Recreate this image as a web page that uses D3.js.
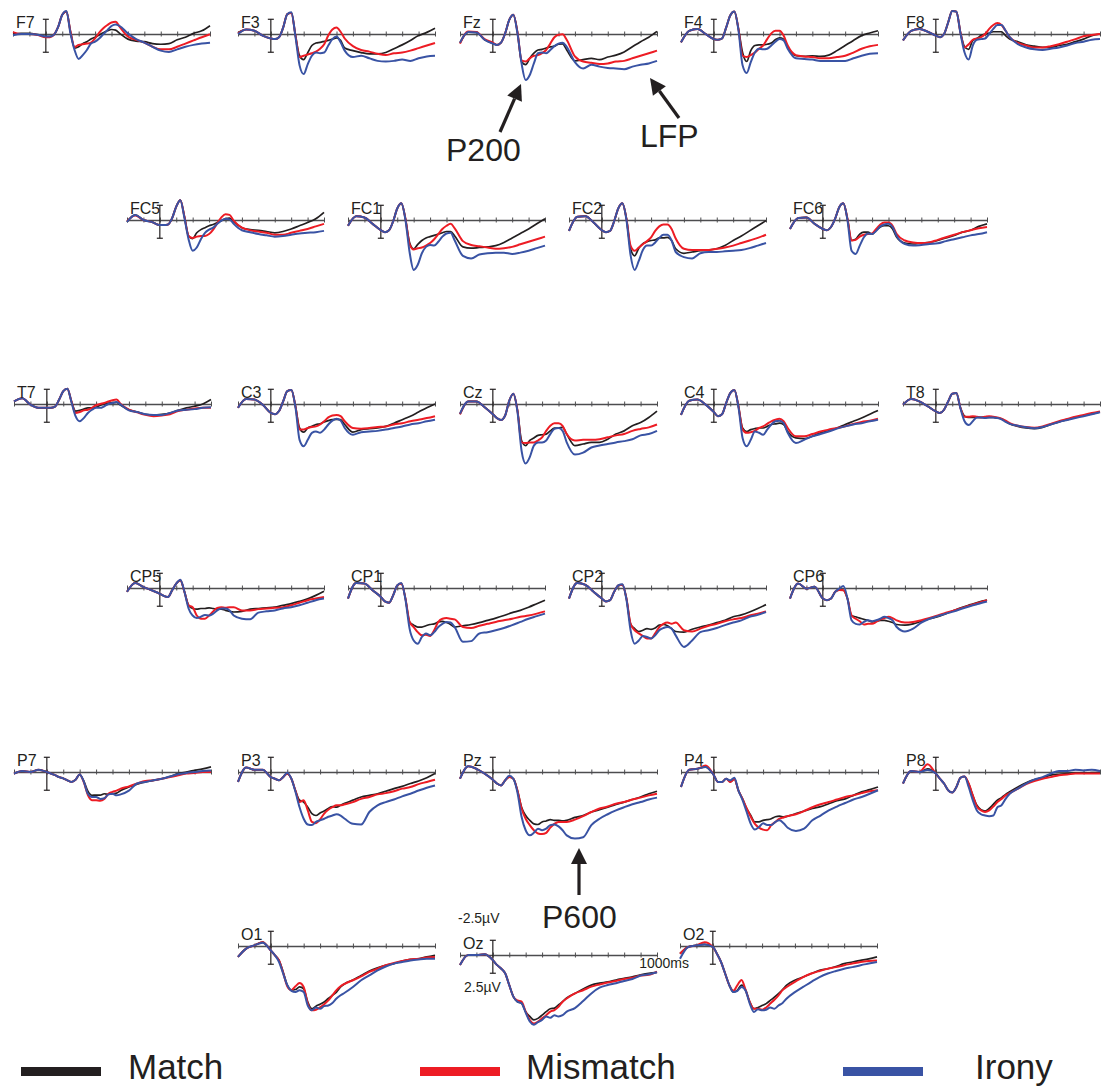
<!DOCTYPE html>
<html>
<head>
<meta charset="utf-8">
<script src="https://cdn.jsdelivr.net/npm/d3@7"></script>
<style>
  body { margin: 0; background: #fff; }
  text { font-family: "Liberation Sans", Arial, Helvetica, sans-serif; fill: #231f20; }
</style>
</head>
<body>
<script>
// sample times (ms)
var times = [-200,-150,-100,-50,0,25,50,75,100,125,150,175,200,225,250,275,300,325,350,375,400,425,450,500,550,600,650,700,750,800,850,900,950,1000]

var electrodes = ['F7','F3','Fz','F4','F8','FC5','FC1','FC2','FC6','T7','C3','Cz','C4','T8',
                  'CP5','CP1','CP2','CP6','P7','P3','Pz','P4','P8','O1','Oz','O2']

// amplitudes in microvolts, one row per electrode (same order as above)
var match = [
  [0,-0.1,-0.1,0.1,0.4,0.4,0.1,-1.1,-3.0,-3.5,-0.4,2.2,2.0,1.5,1.2,0.8,0.5,0.15,-0.2,-0.5,-0.7,-0.6,-0.1,0.8,1.1,1.2,1.5,1.6,1.5,0.9,0.5,-0.1,-0.5,-1.3], // F7
  [-0.2,-0.7,-0.5,0.25,0.7,0.8,0.5,-1.0,-3.1,-3.3,0.2,3.4,4.0,2.9,1.8,1.4,1.3,1.15,1.0,0.8,0.6,1.0,2.2,2.6,2.9,3.1,3.1,2.9,2.3,1.7,1.0,0.25,-0.25,-0.9], // F3
  [1.4,-0.3,-0.25,0.9,1.45,1.7,1.35,-0.1,-2.2,-3.0,-0.3,4.3,4.8,3.8,3.0,2.5,2.4,2.2,2.0,1.9,1.6,1.55,2.5,4.2,4.0,3.8,4.0,3.6,3.3,2.8,2.0,1.2,0.5,-0.4], // Fz
  [1.3,-0.5,-0.8,0,0.8,0.9,0.7,-1.0,-2.9,-3.5,-0.8,2.9,4.3,2.6,1.8,1.7,1.7,1.6,1.4,0.9,0.6,0.8,2.1,3.4,3.5,3.4,3.5,3.3,2.6,1.8,1.0,0.25,-0.15,-0.5], // F4
  [1.0,-0.5,-0.8,-0.35,0.25,0.5,0,-1.8,-3.6,-3.5,-0.25,2.0,2.4,1.0,0.7,0.25,0,-0.15,-0.35,-0.35,-0.35,0.25,0.8,1.2,1.7,1.9,2.1,2.1,1.8,1.6,1.2,0.8,0.25,0], // F8
  [0.3,-0.8,0,0.3,0.8,0.8,0.7,-0.3,-2.1,-3.1,-0.5,2.5,2.9,2.0,1.5,1.2,0.9,0.7,0.4,0.1,-0.2,-0.3,0.3,1.2,1.5,1.6,1.8,2.0,1.8,1.4,0.9,0.4,-0.2,-1.2], // FC5
  [0.9,-0.6,-0.4,0.6,1.6,1.9,1.6,0.2,-1.8,-2.6,-0.2,3.5,4.5,3.8,3.2,2.8,2.6,2.4,2.2,2.0,1.8,1.8,2.5,4.2,4.4,4.3,4.2,4.0,3.5,2.8,2.1,1.4,0.6,-0.2], // FC1
  [1.7,-0.5,-0.6,0.4,1.6,1.9,1.7,0.2,-1.8,-2.6,-0.2,4.5,5.6,4.4,3.7,3.4,3.2,3.1,2.8,2.8,2.7,3.2,4.5,5.2,5.0,4.8,4.7,4.5,4.0,3.2,2.5,1.7,0.9,0.1], // FC2
  [1.4,-0.3,-0.4,0.6,1.4,1.6,1.1,-0.2,-2.0,-2.6,-0.2,3.2,3.0,2.2,1.9,1.9,2.2,1.6,1.1,0.9,0.9,1.4,2.7,3.6,3.75,3.6,3.5,3.2,2.8,2.4,1.9,1.6,1.0,0.6], // FC6
  [-0.4,-0.9,0.1,0.6,0.6,0.6,0.4,-0.7,-2.0,-2.4,-0.4,1.1,1.0,0.8,0.6,0.6,0.5,0.2,0,-0.15,-0.2,-0.25,0.2,0.9,1.25,1.6,1.7,1.6,1.4,1.0,0.6,0.35,0,-0.7], // T7
  [0.6,-0.8,-0.7,0.1,1.4,1.6,1.1,-0.4,-2.0,-2.2,0.35,3.75,4.4,3.75,3.5,3.2,3.1,2.8,2.6,2.45,2.4,2.45,3.2,4.4,4.0,3.85,3.75,3.5,3.0,2.45,1.9,1.25,0.6,0], // C3
  [1.6,-0.4,-0.4,0.5,1.6,2.2,2.5,1.8,-0.5,-1.6,1.0,5.7,6.5,5.7,5.3,4.9,4.8,4.7,4.2,3.75,3.75,3.65,4.7,6.5,6.25,6.0,6.0,5.5,4.7,4.2,3.4,2.9,2.1,1.1], // Cz
  [1.7,-0.5,-0.7,0.1,1.25,1.9,1.6,-0.15,-1.7,-2.2,0.35,3.75,4.3,4.0,3.85,3.75,3.75,3.5,3.2,3.1,3.0,3.2,4.3,5.3,5.4,5.05,4.5,4.2,3.75,3.2,2.7,2.2,1.6,1.0], // C4
  [0.1,-0.8,-0.4,0.35,1.15,1.4,0.9,-0.4,-1.6,-1.7,0.6,1.9,2.1,2.1,2.1,2.1,2.1,2.1,2.1,2.2,2.3,2.7,3.1,3.5,3.75,3.85,3.65,3.2,2.8,2.45,2.1,1.8,1.55,1.25], // T8
  [0.6,-0.8,-0.15,0.35,0.9,1.25,1.4,0.35,-0.7,-1.2,0.6,2.7,3.2,3.3,3.2,3.2,3.1,3.2,3.3,3.3,3.5,3.65,3.75,3.65,3.3,3.2,3.1,3.0,2.7,2.45,2.1,1.7,1.15,0.5], // CP5
  [1.65,-0.8,-0.7,0.35,1.4,2.1,2.3,1.15,-0.4,-0.7,1.65,5.3,5.8,6.1,6.1,5.9,5.7,5.6,5.3,5.2,5.4,5.7,6.1,5.9,5.7,5.4,5.05,4.7,4.3,3.85,3.5,3.0,2.45,1.9], // CP1
  [1.65,-0.8,-0.5,0.6,1.65,2.1,1.9,0.6,-0.4,-0.5,1.65,5.6,6.35,6.8,6.6,6.35,6.45,6.25,5.8,5.7,5.9,6.35,6.8,6.9,6.45,6.1,5.8,5.4,5.05,4.5,4.2,3.75,3.2,2.6], // CP2
  [1.65,-0.7,0.1,-0.2,1.65,1.9,1.65,0.6,0.3,0.35,1.65,4.3,4.5,4.7,4.9,5.05,5.3,5.2,5.05,5.05,5.2,5.4,5.7,5.8,5.6,5.2,4.8,4.5,4.0,3.5,3.0,2.6,2.2,1.9], // CP6
  [0.25,-0.15,0,-0.35,0,0.25,0.5,0.8,1.0,1.3,1.55,1.2,0.4,1.4,3.0,3.65,3.6,3.6,3.4,3.5,3.4,3.3,2.9,2.35,1.9,1.55,1.3,1.05,0.7,0.25,0,-0.25,-0.5,-0.8], // P7
  [1.55,-0.7,-0.35,-0.35,0.8,1.05,1.3,0.8,0.25,1.05,2.9,4.4,4.7,5.5,6.5,6.8,6.4,6.1,5.7,5.4,5.5,5.2,4.9,4.4,3.9,3.65,3.4,3.0,2.6,2.25,1.8,1.4,0.9,0.25], // P3
  [1.05,-0.9,-0.5,0.25,1.2,1.8,2.1,1.3,0.8,1.05,2.9,5.5,6.8,7.55,8.1,8.2,7.8,7.65,7.45,7.55,7.55,7.65,7.55,7.1,6.8,6.25,5.9,5.5,5.05,4.7,4.3,3.9,3.4,3.0], // Pz
  [2.35,-0.35,-0.5,-0.8,0.5,1.55,1.55,1.05,1.55,1.1,2.9,4.2,5.7,6.8,7.8,7.8,7.55,7.45,7.3,7.0,6.9,7.0,6.9,6.5,6.1,5.7,5.4,4.95,4.5,4.2,3.65,3.1,2.75,2.35], // P4
  [1.8,-0.15,0,-0.5,0.25,1.05,1.8,2.85,3.2,2.35,0.9,0.7,1.8,3.65,5.2,5.9,6.1,5.7,5.05,4.4,4.0,3.5,3.1,2.35,1.7,1.2,0.9,0.5,0.35,0.25,0.15,0.15,0.1,0.05], // P8
  [1.7,0.4,-0.1,-0.6,0.7,1.45,2.25,4.05,6.1,6.9,6.8,6.4,6.7,8.75,9.8,9.4,9.1,8.75,8.2,7.7,7.2,6.4,5.9,5.3,4.6,3.9,3.4,3.0,2.75,2.35,2.1,2.0,1.7,1.45], // O1
  [1.55,0,0,-0.1,0.8,1.55,2.1,2.85,4.7,6.5,7.3,7.55,8.85,9.6,10.15,9.9,9.4,8.85,8.4,8.3,7.8,7.3,6.7,6.0,5.3,4.7,4.4,4.2,3.9,3.65,3.4,3.1,2.85,2.7], // Oz
  [1.2,0.15,-0.1,-0.25,0.15,1.2,2.5,4.3,6.1,7.2,6.9,6.1,6.9,8.75,9.8,9.6,9.3,9.0,8.5,8.0,7.45,6.8,6.1,5.35,4.85,4.3,3.8,3.55,3.2,2.75,2.5,2.25,2.0,1.7]  // O2
]

var mismatch = [
  [-0.3,0,0,0.15,0.5,0.5,0.1,-1.1,-3.0,-3.5,-0.4,2.0,1.7,1.6,1.5,1.35,0.7,-0.2,-0.9,-1.4,-1.8,-1.9,-1.1,0.4,0.9,1.35,2.0,2.4,2.4,2.0,1.5,1.0,0.5,0.05], // F7
  [-0.1,-0.7,-0.5,0.25,0.7,0.8,0.5,-1.0,-3.1,-3.3,0.2,3.6,3.4,3.2,3.0,2.75,2.3,1.6,0.25,-0.7,-1.0,-0.35,0.7,1.9,2.5,2.75,3.1,3.3,3.0,2.9,2.6,2.2,1.8,1.4], // F3
  [1.5,-0.4,-0.3,0.8,1.35,1.7,1.35,-0.1,-2.2,-3.0,-0.3,4.1,4.3,3.8,3.4,3.3,3.0,2.5,1.5,0.5,0.1,0.05,0.9,3.5,4.3,4.5,4.7,4.6,4.3,4.2,3.8,3.4,3.0,2.6], // Fz
  [1.3,-0.5,-0.8,0,0.8,0.9,0.7,-1.0,-2.9,-3.5,-0.8,3.4,3.6,3.3,2.9,2.3,1.8,0.8,-0.1,-0.5,-0.5,0.25,1.8,3.3,3.5,3.6,3.8,3.8,3.6,3.4,2.9,2.3,1.9,1.7], // F4
  [1.0,-0.5,-0.8,-0.35,0.25,0.5,0,-1.8,-3.6,-3.5,-0.25,2.1,1.6,0.9,0.7,0.5,0,-0.8,-1.4,-1.7,-1.4,-0.5,0.5,1.4,1.8,2.1,2.1,1.9,1.6,1.2,0.8,0.35,0.15,0], // F8
  [0.2,-0.7,0,0.3,0.8,0.8,0.7,-0.3,-2.1,-3.1,-0.5,2.5,2.8,2.6,2.5,2.5,2.2,1.5,0.5,-0.4,-0.9,-0.8,0.1,1.2,1.6,1.8,2.0,2.3,2.3,2.0,1.7,1.4,1.0,0.6], // FC5
  [0.9,-0.6,-0.4,0.6,1.6,1.9,1.6,0.2,-1.8,-2.6,-0.2,3.8,4.6,4.4,4.3,4.0,3.6,3.0,2.2,1.4,0.9,0.6,1.3,3.3,3.9,4.1,4.3,4.5,4.4,4.2,3.8,3.4,3.0,2.6], // FC1
  [1.7,-0.5,-0.6,0.4,1.6,1.9,1.7,0.2,-1.8,-2.6,-0.2,4.0,4.8,4.3,3.8,3.3,2.7,1.7,1.0,0.7,0.7,1.4,2.9,4.5,4.7,4.7,4.7,4.5,4.3,4.0,3.6,3.2,2.8,2.3], // FC2
  [1.4,-0.3,-0.4,0.6,1.4,1.6,1.1,-0.2,-2.0,-2.6,-0.2,3.2,3.1,2.6,2.3,2.2,2.1,1.4,0.7,0.4,0.4,0.9,2.2,3.2,3.5,3.6,3.5,3.1,2.7,2.3,1.9,1.6,1.3,1.1], // FC6
  [-0.4,-0.9,0.1,0.6,0.6,0.6,0.4,-0.7,-2.0,-2.4,-0.4,1.4,1.25,1.0,0.9,0.6,0.2,0,-0.15,-0.4,-0.6,-0.7,0,0.9,1.3,1.7,1.9,1.8,1.6,1.1,0.9,0.7,0.6,0.6], // T7
  [0.6,-0.8,-0.7,0.1,1.4,1.6,1.1,-0.4,-2.0,-2.2,0.35,4.0,4.0,3.75,3.6,3.5,3.2,2.7,2.1,1.8,1.7,1.9,2.7,3.75,3.85,3.75,3.6,3.5,3.2,3.0,2.7,2.45,2.2,1.9], // C3
  [1.6,-0.4,-0.4,0.5,1.6,2.2,2.5,1.8,-0.5,-1.6,1.0,6.0,6.1,6.0,6.0,5.7,5.2,4.2,3.4,3.0,3.0,3.4,4.7,5.7,5.6,5.6,5.5,5.2,4.9,4.7,4.2,3.9,3.65,3.2], // Cz
  [1.7,-0.5,-0.7,0.1,1.25,1.9,1.6,-0.15,-1.7,-2.2,0.35,4.0,4.5,4.4,4.2,3.75,3.5,3.1,2.7,2.45,2.3,2.7,3.75,5.05,5.05,4.7,4.3,4.0,3.75,3.5,3.1,2.8,2.6,2.3], // C4
  [0.1,-0.8,-0.4,0.35,1.15,1.4,0.9,-0.4,-1.6,-1.7,0.6,2.0,2.0,1.9,2.0,2.1,2.0,1.9,2.0,2.1,2.3,2.6,3.0,3.4,3.6,3.7,3.5,3.1,2.7,2.35,2.0,1.7,1.4,1.15], // T8
  [0.6,-0.8,-0.15,0.35,0.9,1.25,1.4,0.35,-0.7,-1.2,0.6,2.7,3.0,4.3,4.8,4.8,4.3,3.65,3.1,3.0,3.1,3.0,3.0,3.5,3.5,3.3,3.2,3.1,3.0,2.7,2.3,1.9,1.65,1.4], // CP5
  [1.65,-0.8,-0.7,0.35,1.4,2.1,2.3,1.15,-0.4,-0.7,1.65,5.3,6.1,6.9,7.4,7.3,7.5,6.6,5.3,4.8,4.7,4.8,4.9,6.1,6.25,5.9,5.6,5.3,5.05,4.8,4.5,4.3,4.0,3.65], // CP1
  [1.65,-0.8,-0.5,0.6,1.65,2.1,1.9,0.6,-0.4,-0.5,1.65,5.6,6.6,7.1,7.5,7.9,7.9,7.1,6.1,5.6,5.4,5.6,5.4,6.6,6.8,6.35,5.9,5.6,5.2,4.9,4.7,4.3,4.0,3.65], // CP2
  [1.65,-0.7,0.1,-0.2,1.65,1.9,1.65,0.6,0.3,0.35,1.65,4.3,4.8,5.2,5.7,5.6,5.6,5.3,4.9,4.7,4.5,4.7,5.05,5.4,5.3,5.05,4.7,4.3,3.85,3.5,3.1,2.7,2.3,1.9], // CP6
  [0.25,-0.15,0,-0.35,0,0.25,0.5,0.8,1.0,1.3,1.55,1.2,0.4,1.6,3.6,4.4,4.4,4.5,4.2,3.4,3.1,2.9,2.6,2.25,1.8,1.4,1.3,1.05,0.8,0.5,0.25,0.15,0,0], // P7
  [1.55,-0.7,-0.35,-0.35,0.8,1.05,1.3,0.8,0.25,1.05,2.9,4.7,4.4,6.0,7.8,8.0,7.4,6.5,5.9,5.5,5.2,5.2,5.05,4.7,4.2,3.9,3.5,3.3,3.0,2.6,2.35,1.9,1.55,1.2], // P3
  [1.05,-0.9,-0.5,0.25,1.2,1.8,2.1,1.3,0.8,1.05,2.9,5.7,7.3,8.3,9.1,9.6,9.7,9.5,8.7,8.1,7.8,7.8,7.8,7.45,6.9,6.25,5.7,5.4,4.95,4.7,4.3,4.0,3.65,3.4], // Pz
  [2.35,-0.35,-0.5,-1.0,0.5,1.55,1.55,1.05,1.55,1.1,2.9,4.2,5.7,7.0,8.1,8.7,9.0,9.1,8.3,7.8,7.3,7.1,6.9,6.6,6.1,5.5,5.05,4.7,4.3,3.9,3.65,3.3,3.0,2.85], // P4
  [1.8,-0.15,0,-1.2,0.25,1.05,1.8,2.85,3.2,2.35,0.9,0.7,1.8,3.65,5.4,6.0,6.25,6.0,5.4,4.7,4.2,3.65,3.3,2.6,1.9,1.4,1.05,0.8,0.5,0.4,0.25,0.25,0.25,0.25], // P8
  [1.7,0.4,-0.1,-0.6,0.7,1.45,2.25,4.2,6.3,6.9,6.3,5.8,6.4,9.0,10.05,9.95,9.6,9.1,8.5,7.7,6.9,6.3,5.9,5.35,4.75,4.05,3.55,3.0,2.65,2.35,2.1,2.0,1.8,1.7], // O1
  [1.55,0,0,-0.1,0.8,1.55,2.1,2.85,4.7,6.5,7.1,7.3,8.85,10.15,10.7,10.4,9.9,9.4,8.85,8.6,8.1,7.3,6.8,6.0,5.5,4.95,4.6,4.3,4.05,3.75,3.55,3.2,3.1,2.6], // Oz
  [1.2,0.15,-0.1,-0.6,0.15,1.2,2.5,4.3,6.1,7.0,6.1,5.3,6.9,8.75,9.8,9.8,9.95,9.6,9.0,8.4,7.7,6.9,6.4,5.6,4.85,4.3,3.9,3.55,3.3,3.0,2.75,2.5,2.35,2.25]  // O2
]

var irony = [
  [0.2,0,0,0.1,0.4,0.4,0.1,-1.1,-3.0,-3.6,-0.1,2.5,3.9,3.3,2.5,1.5,1.2,0.7,0.05,-0.6,-1.25,-1.5,-1.25,-0.1,0.8,1.35,2.0,2.6,2.8,2.4,2.0,1.7,1.5,1.35], // F7
  [0,-0.7,-0.5,0.25,0.7,0.8,0.5,-1.0,-3.1,-3.4,0.4,4.9,6.25,4.7,3.4,2.9,3.0,2.9,1.8,0.8,0.4,1.3,2.6,3.6,3.4,3.8,4.2,4.3,4.2,4.0,4.2,3.8,3.5,3.4], // F3
  [1.35,-0.3,-0.25,0.9,1.5,1.7,1.35,-0.1,-2.2,-3.0,-0.1,4.6,7.2,6.4,4.6,3.0,2.9,3.0,2.5,1.9,1.5,1.35,2.0,4.4,5.4,4.8,5.1,5.3,5.4,5.5,5.1,4.8,4.6,4.2], // Fz
  [1.3,-0.5,-0.8,0,0.8,0.9,0.7,-1.0,-2.9,-3.5,-0.6,4.9,6.1,4.4,2.9,2.3,2.4,2.3,1.8,1.2,0.8,1.0,2.3,3.8,3.9,4.0,4.2,4.2,4.2,4.2,3.8,3.4,3.1,3.0], // F4
  [1.0,-0.5,-0.8,-0.35,0.25,0.5,0,-1.8,-3.6,-3.5,-0.1,2.9,4.0,1.8,0.9,0.8,0.7,0,-0.8,-1.4,-1.4,-0.5,0.5,1.6,2.1,2.4,2.5,2.3,2.1,1.8,1.4,1.2,0.9,0.8], // F8
  [0.3,-0.8,0,0.3,0.8,0.8,0.7,-0.3,-2.1,-3.1,-0.3,3.0,4.8,4.3,3.0,2.0,1.5,1.2,0.6,0.1,-0.2,-0.1,0.6,1.6,1.9,2.2,2.4,2.6,2.5,2.3,2.1,2.0,1.9,1.7], // FC5
  [0.9,-0.6,-0.4,0.6,1.6,1.9,1.6,0.2,-1.8,-2.6,0,5.0,7.8,7.0,5.2,4.2,3.9,4.0,3.4,2.6,2.1,2.0,3.2,5.6,6.0,5.4,5.2,5.1,5.1,5.3,5.1,4.8,4.4,4.0], // FC1
  [1.7,-0.5,-0.6,0.4,1.6,1.9,1.7,0.2,-1.8,-2.6,0,5.5,7.8,6.4,4.7,4.0,4.0,3.5,2.8,2.3,2.3,3.2,5.0,5.8,6.0,5.2,5.0,5.0,4.9,4.8,4.7,4.4,4.0,3.6], // FC2
  [1.4,-0.3,-0.4,0.6,1.4,1.6,1.1,-0.2,-2.0,-2.6,0,4.8,5.3,4.0,2.7,2.1,2.2,1.7,1.0,0.7,0.6,1.1,2.5,3.75,4.0,3.9,3.75,3.65,3.3,3.0,2.7,2.4,2.2,1.9], // FC6
  [-0.4,-0.9,0.1,0.6,0.6,0.6,0.4,-0.7,-2.0,-2.4,-0.3,1.9,2.7,2.2,1.4,0.9,0.6,0.6,0.35,0,-0.15,-0.3,0.1,1.0,1.25,1.6,1.7,1.7,1.4,1.0,0.9,0.8,0.6,0.5], // T7
  [0.6,-0.8,-0.7,0.1,1.4,1.6,1.1,-0.4,-2.0,-2.2,0.5,5.6,6.6,5.6,4.5,4.3,4.5,4.0,3.2,2.6,2.3,2.6,3.75,4.8,4.4,4.3,4.2,4.0,3.75,3.5,3.2,3.0,2.7,2.45], // C3
  [1.5,-0.4,-0.4,0.5,1.6,2.2,2.5,1.8,-0.5,-1.6,1.2,7.3,9.3,8.3,6.5,6.0,6.0,5.7,4.7,3.9,3.75,4.2,6.0,7.9,7.6,6.8,6.5,6.25,6.0,5.8,5.5,4.9,4.7,4.2], // Cz
  [1.7,-0.5,-0.7,0.1,1.25,1.9,1.6,-0.15,-1.7,-2.2,0.5,5.3,6.6,5.6,4.3,4.5,4.8,4.0,3.2,2.7,2.6,3.0,4.5,6.1,5.6,5.05,4.7,4.3,3.85,3.5,3.2,3.0,2.7,2.45], // C4
  [0.1,-0.8,-0.4,0.35,1.15,1.4,0.9,-0.4,-1.6,-1.7,0.7,2.7,3.3,2.7,2.1,2.1,2.2,2.1,2.1,2.2,2.4,2.8,3.1,3.4,3.65,3.8,3.6,3.2,2.8,2.5,2.2,1.9,1.6,1.3], // T8
  [0.6,-0.8,-0.15,0.35,0.9,1.25,1.4,0.35,-0.7,-1.3,0.6,3.2,4.3,4.7,4.5,4.2,4.3,4.0,3.5,3.2,3.2,3.5,4.3,4.8,4.9,3.85,3.65,3.5,3.2,3.0,2.7,2.3,1.9,1.65], // CP5
  [1.65,-0.8,-0.7,0.35,1.4,2.1,2.3,1.15,-0.4,-0.8,1.8,6.35,8.2,8.7,7.65,7.1,7.4,6.9,6.1,5.6,5.3,5.4,6.1,8.4,8.3,7.1,6.9,6.6,6.25,5.8,5.3,4.8,4.4,4.0], // CP1
  [1.65,-0.8,-0.5,0.6,1.65,2.1,1.9,0.6,-0.4,-0.6,1.8,6.6,8.7,8.2,7.5,7.65,7.9,7.4,6.6,6.25,6.1,6.35,7.4,9.2,8.2,6.9,6.6,6.25,5.8,5.4,5.05,4.5,4.2,3.75], // CP2
  [1.65,-0.7,0.1,-0.2,1.65,1.9,1.65,0.6,0.1,-0.3,1.65,5.05,5.6,5.7,5.3,5.05,5.2,5.05,4.8,4.5,4.7,5.05,6.1,6.8,6.35,5.4,4.8,4.4,4.0,3.65,3.2,2.8,2.45,2.1], // CP6
  [0.25,-0.15,0,-0.35,0,0.25,0.5,0.8,1.0,1.3,1.55,1.2,0.4,1.5,3.4,3.9,3.9,4.2,4.1,3.5,3.4,3.65,3.5,2.9,1.8,1.55,1.3,1.05,0.7,0.35,0.15,0,-0.15,-0.25], // P7
  [1.55,-0.7,-0.35,-0.35,0.8,1.05,1.3,0.8,0.1,1.05,3.1,5.5,7.3,8.2,8.3,7.8,7.55,7.3,7.0,6.8,6.6,6.8,7.3,8.1,8.2,6.25,5.2,4.7,4.3,3.8,3.4,2.9,2.45,2.1], // P3
  [1.05,-0.9,-0.5,0.25,1.2,1.8,2.1,1.3,0.6,1.05,3.2,7.0,9.1,9.9,9.5,8.85,9.1,8.85,8.3,8.2,8.5,9.1,9.9,10.4,10.2,8.3,7.3,6.6,6.0,5.5,5.05,4.7,4.3,4.0], // Pz
  [2.35,-0.35,-0.5,-0.8,0.5,1.55,1.55,1.05,1.3,0.9,2.9,4.4,6.25,8.1,9.0,8.6,8.0,8.3,8.3,7.8,7.55,8.0,8.7,9.2,8.85,7.55,6.8,6.0,5.4,4.85,4.3,3.9,3.4,2.85], // P4
  [1.8,-0.15,0,-0.3,0.25,1.05,1.8,2.85,3.2,2.35,0.9,0.7,2.35,4.4,6.0,6.6,6.8,6.9,6.8,5.5,5.2,4.2,3.4,2.6,1.8,1.2,0.8,0.25,-0.15,-0.15,-0.35,-0.25,-0.35,-0.15], // P8
  [1.7,0.4,-0.1,-0.5,0.7,1.45,2.5,4.3,6.1,7.0,7.2,6.9,7.2,9.3,10.05,9.6,9.8,9.4,9.3,8.9,8.2,7.7,7.3,6.4,5.35,4.6,3.8,3.2,2.75,2.5,2.25,2.1,2.0,2.0], // O1
  [1.55,0,0,-0.1,0.8,1.55,2.1,2.85,4.7,6.5,7.3,7.55,9.0,10.4,10.9,10.5,10.15,9.6,9.8,9.4,9.6,9.4,8.85,8.3,7.2,6.0,5.1,4.7,4.4,4.05,3.75,3.2,3.0,2.7], // Oz
  [2.0,0.15,-0.1,-0.25,0.15,1.2,2.5,4.3,6.1,7.2,7.0,6.4,7.0,9.0,10.3,9.9,10.05,9.95,9.6,9.8,9.3,8.9,8.2,7.2,6.4,5.6,4.85,4.3,3.9,3.55,3.3,3.0,2.75,2.5]  // O2
]

var conditions = ['Match', 'Mismatch', 'Irony']
var colors = ['#231f20', '#ed1c24', '#3953a4']
var tickTimes = d3.range(-200, 1001, 100)

// where each electrode's axis origin (-200 ms, 0 uV) sits on the page
var panelPos = [
  [13,34],[238,34],[460,34],[681,34],[903,34],
  [127,220],[348,220],[569,220],[790,220],
  [14,404],[238,404],[460,404],[681,404],[903,404],
  [127,588],[348,588],[569,588],[790,588],
  [14,772],[238,772],[460,772],[681,772],[903,772],
  [238,946],[460,955],[680,946]
]

var w = 1109
var h = 1088

var svg = d3.select('body').append('svg')
  .attr('width', w)
  .attr('height', h)

var x = d3.scaleLinear().domain([-200, 1000]).range([0, 197])
var y = d3.scaleLinear().domain([-2.5, 2.5]).range([-16, 16]) // negative up

var line = d3.line()
  .x(function(d, i){ return x(times[i]) })
  .y(function(d){ return y(d) })
  .curve(d3.curveMonotoneX)

var series = [match, mismatch, irony]

electrodes.forEach(function(name, k){
  var g = svg.append('g')
    .attr('transform', 'translate(' + panelPos[k][0] + ',' + panelPos[k][1] + ')')

  // time axis, ticks cross the line
  var ax = g.append('g')
    .call(d3.axisBottom(x).tickValues(tickTimes).tickFormat('').tickSizeOuter(0))
  ax.select('.domain').attr('stroke', '#4d4d4f').attr('stroke-width', 1.4)
  ax.selectAll('.tick line').attr('y1', -2.5).attr('y2', 2.5).attr('stroke', '#4d4d4f').attr('stroke-width', 1)

  // amplitude bar at stimulus onset
  var bar = g.append('g').attr('stroke', '#231f20').attr('stroke-width', 1.2)
  bar.append('line').attr('x1', x(0)).attr('x2', x(0)).attr('y1', y(-2.3)).attr('y2', y(2.85))
  bar.append('line').attr('x1', x(0) - 3).attr('x2', x(0) + 3).attr('y1', y(-2.3)).attr('y2', y(-2.3))
  bar.append('line').attr('x1', x(0) - 3).attr('x2', x(0) + 3).attr('y1', y(2.85)).attr('y2', y(2.85))

  series.forEach(function(s, c){
    g.append('path')
      .datum(s[k])
      .attr('d', line)
      .attr('fill', 'none')
      .attr('stroke', colors[c])
      .attr('stroke-width', c === 0 ? 1.7 : 2)
      .attr('stroke-linejoin', 'round')
  })

  g.append('text')
    .text(name)
    .attr('x', 3)
    .attr('y', -6)
    .attr('font-size', '16px')

  if (name === 'Oz') { // scale annotation
    g.append('text').text('-2.5\u00b5V').attr('x', -2).attr('y', -32).attr('font-size', '14px')
    g.append('text').text('2.5\u00b5V').attr('x', 4).attr('y', 37).attr('font-size', '14px')
    g.append('text').text('1000ms').attr('x', x(1000) + 32).attr('y', 13)
      .attr('text-anchor', 'end').attr('font-size', '14px')
  }
})

// component arrows
function arrow(x1, y1, x2, y2){
  var a = Math.atan2(y2 - y1, x2 - x1)
  var len = 16, half = 8
  var bx = x2 - len * Math.cos(a), by = y2 - len * Math.sin(a)
  svg.append('line')
    .attr('x1', x1).attr('y1', y1).attr('x2', bx).attr('y2', by)
    .attr('stroke', '#231f20').attr('stroke-width', 3.2)
  svg.append('path')
    .attr('d', 'M' + x2 + ',' + y2 +
      'L' + (bx + half * Math.sin(a)) + ',' + (by - half * Math.cos(a)) +
      'L' + (bx - half * Math.sin(a)) + ',' + (by + half * Math.cos(a)) + 'Z')
    .attr('fill', '#231f20')
}
arrow(500, 132, 521, 84)
arrow(679, 118, 650, 78)
arrow(579, 895, 579, 848)

svg.append('text').text('P200').attr('x', 446).attr('y', 161).attr('font-size', '32px')
svg.append('text').text('LFP').attr('x', 640).attr('y', 147).attr('font-size', '32px')
svg.append('text').text('P600').attr('x', 542).attr('y', 928).attr('font-size', '32px')

// legend
var legendBarX = [21, 420, 843]
var legendTextX = [128, 526, 975]
conditions.forEach(function(c, i){
  svg.append('rect')
    .attr('x', legendBarX[i]).attr('y', 1067)
    .attr('width', 80).attr('height', 9)
    .attr('fill', colors[i])
  svg.append('text')
    .text(c)
    .attr('x', legendTextX[i]).attr('y', 1079)
    .attr('font-size', '35px')
})
</script>
</body>
</html>
